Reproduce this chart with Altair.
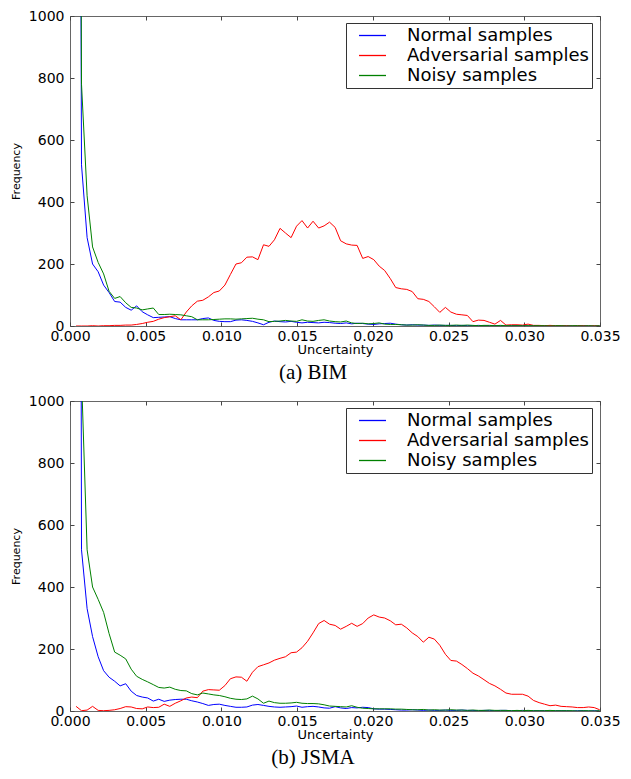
import altair as alt
import pandas as pd

# Bin centres (Uncertainty)
uncertainty = [
    0.00040, 0.00076, 0.00113, 0.00149, 0.00186, 0.00222, 0.00258, 0.00295, 0.00331, 0.00368,
    0.00404, 0.00440, 0.00477, 0.00513, 0.00550, 0.00586, 0.00622, 0.00659, 0.00695, 0.00732,
    0.00768, 0.00804, 0.00841, 0.00877, 0.00914, 0.00950, 0.00986, 0.01023, 0.01059, 0.01096,
    0.01132, 0.01168, 0.01205, 0.01241, 0.01278, 0.01314, 0.01350, 0.01387, 0.01423, 0.01460,
    0.01496, 0.01532, 0.01569, 0.01605, 0.01642, 0.01678, 0.01714, 0.01751, 0.01787, 0.01824,
    0.01860, 0.01896, 0.01933, 0.01969, 0.02006, 0.02042, 0.02078, 0.02115, 0.02151, 0.02188,
    0.02224, 0.02260, 0.02297, 0.02333, 0.02370, 0.02406, 0.02442, 0.02479, 0.02515, 0.02552,
    0.02588, 0.02624, 0.02661, 0.02697, 0.02734, 0.02770, 0.02806, 0.02843, 0.02879, 0.02916,
    0.02952, 0.02988, 0.03025, 0.03061, 0.03098, 0.03134, 0.03170, 0.03207, 0.03243, 0.03280,
    0.03316, 0.03352, 0.03389, 0.03425, 0.03462, 0.03498,
]

series_names = ["Normal samples", "Adversarial samples", "Noisy samples"]
series_colors = ["#0000ff", "#ff0000", "#008000"]

# (a) BIM
bim_normal = [
    6000, 520, 285, 200, 175, 132, 108, 79, 77, 60,
    51, 65, 46, 36, 27, 28, 29, 30, 24, 20,
    20, 20, 20, 24, 26, 18, 15, 14, 14, 19,
    20, 18, 15, 10, 4, 12, 16, 14, 13, 15,
    12, 10, 12, 11, 10, 12, 11, 9, 8, 10,
    7, 9, 8, 6, 5, 7, 8, 9, 6, 4,
    3, 4, 3, 3, 2, 3, 2, 2, 2, 1,
    2, 1, 1, 2, 1, 1, 1, 1, 0, 1,
    1, 1, 0, 1, 0, 1, 1, 0, 0, 1,
    0, 0, 1, 0, 0, 0,
]
bim_adversarial = [
    0, 0, 0, 1, 0, 1, 1, 2, 2, 3,
    3, 5, 8, 12, 15, 22, 27, 30, 33, 20,
    45, 65, 80, 83, 94, 108, 113, 132, 166, 200,
    204, 222, 223, 214, 262, 257, 278, 315, 300, 285,
    322, 340, 316, 338, 316, 323, 335, 318, 275, 265,
    261, 260, 218, 224, 214, 193, 179, 153, 124, 120,
    118, 111, 88, 86, 79, 62, 44, 60, 45, 38,
    36, 34, 14, 19, 18, 12, 6, 18, 3, 4,
    4, 3, 6, 2, 2, 1, 2, 1, 1, 1,
    0, 1, 1, 0, 1, 0,
]
bim_noisy = [
    6000, 780, 420, 255, 205, 168, 112, 89, 95, 75,
    60, 58, 52, 55, 58, 37, 37, 38, 37, 36,
    33, 30, 20, 20, 20, 21, 22, 23, 23, 22,
    23, 24, 25, 22, 20, 14, 15, 16, 18, 16,
    15, 20, 16, 15, 18, 20, 16, 14, 13, 16,
    10, 8, 9, 7, 8, 10, 6, 5, 5, 4,
    3, 3, 4, 3, 2, 2, 3, 2, 2, 3,
    2, 3, 2, 1, 2, 2, 1, 2, 1, 1,
    1, 1, 1, 1, 1, 1, 0, 1, 1, 0,
    1, 1, 0, 1, 0, 1,
]

# (b) JSMA
jsma_normal = [
    10000, 520, 330, 240, 175, 130, 109, 96, 81, 88,
    64, 50, 45, 42, 32, 38, 31, 35, 37, 38,
    38, 33, 29, 24, 18, 21, 22, 18, 15, 12,
    12, 13, 19, 21, 18, 15, 13, 12, 13, 14,
    16, 12, 14, 15, 13, 10, 9, 14, 10, 8,
    11, 10, 12, 11, 7, 6, 6, 5, 4, 3,
    3, 4, 3, 2, 3, 2, 2, 3, 2, 2,
    3, 2, 2, 1, 2, 2, 1, 2, 2, 1,
    1, 2, 1, 1, 1, 1, 0, 1, 1, 1,
    0, 1, 1, 0, 1, 0,
]
jsma_adversarial = [
    15, 1, 3, 15, 2, 1, 2, 4, 8, 14,
    13, 8, 7, 13, 11, 12, 22, 15, 25, 33,
    42, 45, 43, 64, 69, 68, 67, 82, 104, 110,
    109, 96, 125, 143, 149, 155, 164, 170, 175, 188,
    190, 204, 225, 252, 282, 292, 280, 276, 264, 273,
    283, 273, 282, 300, 310, 303, 300, 291, 278, 280,
    268, 252, 240, 222, 238, 232, 212, 183, 163, 161,
    150, 137, 122, 113, 101, 89, 81, 70, 58, 54,
    54, 54, 48, 34, 27, 22, 17, 19, 15, 14,
    13, 11, 11, 13, 11, 4,
]
jsma_noisy = [
    10000, 1080, 520, 400, 360, 318, 250, 190, 180, 168,
    135, 112, 102, 94, 85, 76, 74, 77, 70, 66,
    65, 56, 52, 58, 55, 52, 50, 46, 41, 38,
    37, 39, 48, 39, 25, 32, 27, 25, 25, 26,
    28, 25, 24, 24, 23, 20, 16, 15, 14, 13,
    17, 12, 9, 8, 7, 7, 7, 7, 6, 6,
    5, 4, 4, 5, 3, 4, 3, 3, 4, 3,
    3, 2, 3, 2, 2, 3, 2, 2, 2, 1,
    2, 1, 2, 1, 1, 1, 2, 1, 1, 1,
    1, 0, 1, 1, 0, 1,
]

x_ticks = [0.000, 0.005, 0.010, 0.015, 0.020, 0.025, 0.030, 0.035]
y_ticks = [0, 200, 400, 600, 800, 1000]

FONT = "DejaVu Sans"
PLOT_W = 530
PLOT_H = 310
TICK_LEN = 4


def make_df(normal, adversarial, noisy):
    rows = []
    for name, vals in zip(series_names, [normal, adversarial, noisy]):
        for x, v in zip(uncertainty, vals):
            rows.append({"Uncertainty": x, "Frequency": v, "series": name})
    return pd.DataFrame(rows)


def tick_layer(xs, ys, x_offset, y_offset):
    tick_src = pd.DataFrame({"Uncertainty": [0.0], "Frequency": [0.0]})
    return alt.Chart(tick_src).mark_point(opacity=0, size=1).encode(
        x=alt.X("Uncertainty:Q", scale=xs,
                axis=alt.Axis(orient="bottom", values=x_ticks, labels=False, title=None,
                              domain=False, grid=False, tickSize=TICK_LEN, offset=x_offset,
                              tickColor="#444444")),
        y=alt.Y("Frequency:Q", scale=ys,
                axis=alt.Axis(orient="left", values=y_ticks, labels=False, title=None,
                              domain=False, grid=False, tickSize=TICK_LEN, offset=y_offset,
                              tickColor="#444444")),
    )


def panel(df, caption):
    xs = alt.Scale(domain=[0, 0.035], nice=False, zero=False)
    ys = alt.Scale(domain=[0, 1000], nice=False)

    lines = alt.Chart(df).mark_line(clip=True, strokeWidth=1).encode(
        x=alt.X("Uncertainty:Q", scale=xs,
                axis=alt.Axis(orient="bottom", values=x_ticks, format=".3f",
                              labelFlush=False, tickSize=0, domain=False, grid=False,
                              title="Uncertainty", labelFontSize=14, titleFontSize=13,
                              labelPadding=3, titlePadding=0)),
        y=alt.Y("Frequency:Q", scale=ys,
                axis=alt.Axis(orient="left", values=y_ticks, format="d", tickSize=0,
                              domain=False, grid=False, title="Frequency",
                              labelFontSize=14, titleFontSize=11, labelPadding=6,
                              titlePadding=7)),
        color=alt.Color("series:N",
                        scale=alt.Scale(domain=series_names, range=series_colors),
                        legend=alt.Legend(title=None, orient="none", legendX=276, legendY=7,
                                          direction="vertical", symbolType="stroke",
                                          symbolSize=729, symbolStrokeWidth=1.3,
                                          labelFontSize=18, labelFont=FONT,
                                          labelColor="black", labelOffset=20,
                                          labelLimit=400,
                                          fillColor="white", strokeColor="#333333",
                                          padding=3, symbolOffset=9, clipHeight=19,
                                          rowPadding=1)),
    )

    # inward ticks: bottom/left edges, then top/right edges (axes shifted across the plot)
    ticks_near = tick_layer(xs, ys, -TICK_LEN, -TICK_LEN)
    ticks_far = tick_layer(xs, ys, -PLOT_H, -PLOT_W)

    return alt.layer(lines, ticks_near, ticks_far).resolve_axis(
        x="independent", y="independent"
    ).properties(
        width=PLOT_W, height=PLOT_H,
        title=alt.TitleParams(text=caption, orient="bottom", anchor="middle",
                              font="Liberation Serif", fontSize=21, fontWeight="normal",
                              color="black", dx=-22, offset=6),
    )


top = panel(make_df(bim_normal, bim_adversarial, bim_noisy), "(a) BIM")
bottom = panel(make_df(jsma_normal, jsma_adversarial, jsma_noisy), "(b) JSMA")

chart = alt.vconcat(top, bottom, spacing=9).resolve_scale(
    color="independent"
).properties(
    padding={"left": 1, "top": 0, "right": 0, "bottom": 0}
).configure_view(
    stroke="#666666", strokeWidth=1
).configure_axis(
    labelFont=FONT, titleFont=FONT, labelColor="black", titleColor="black",
    titleFontWeight="normal"
)

chart.save("out.html", embed_options={"renderer": "svg", "actions": False})
